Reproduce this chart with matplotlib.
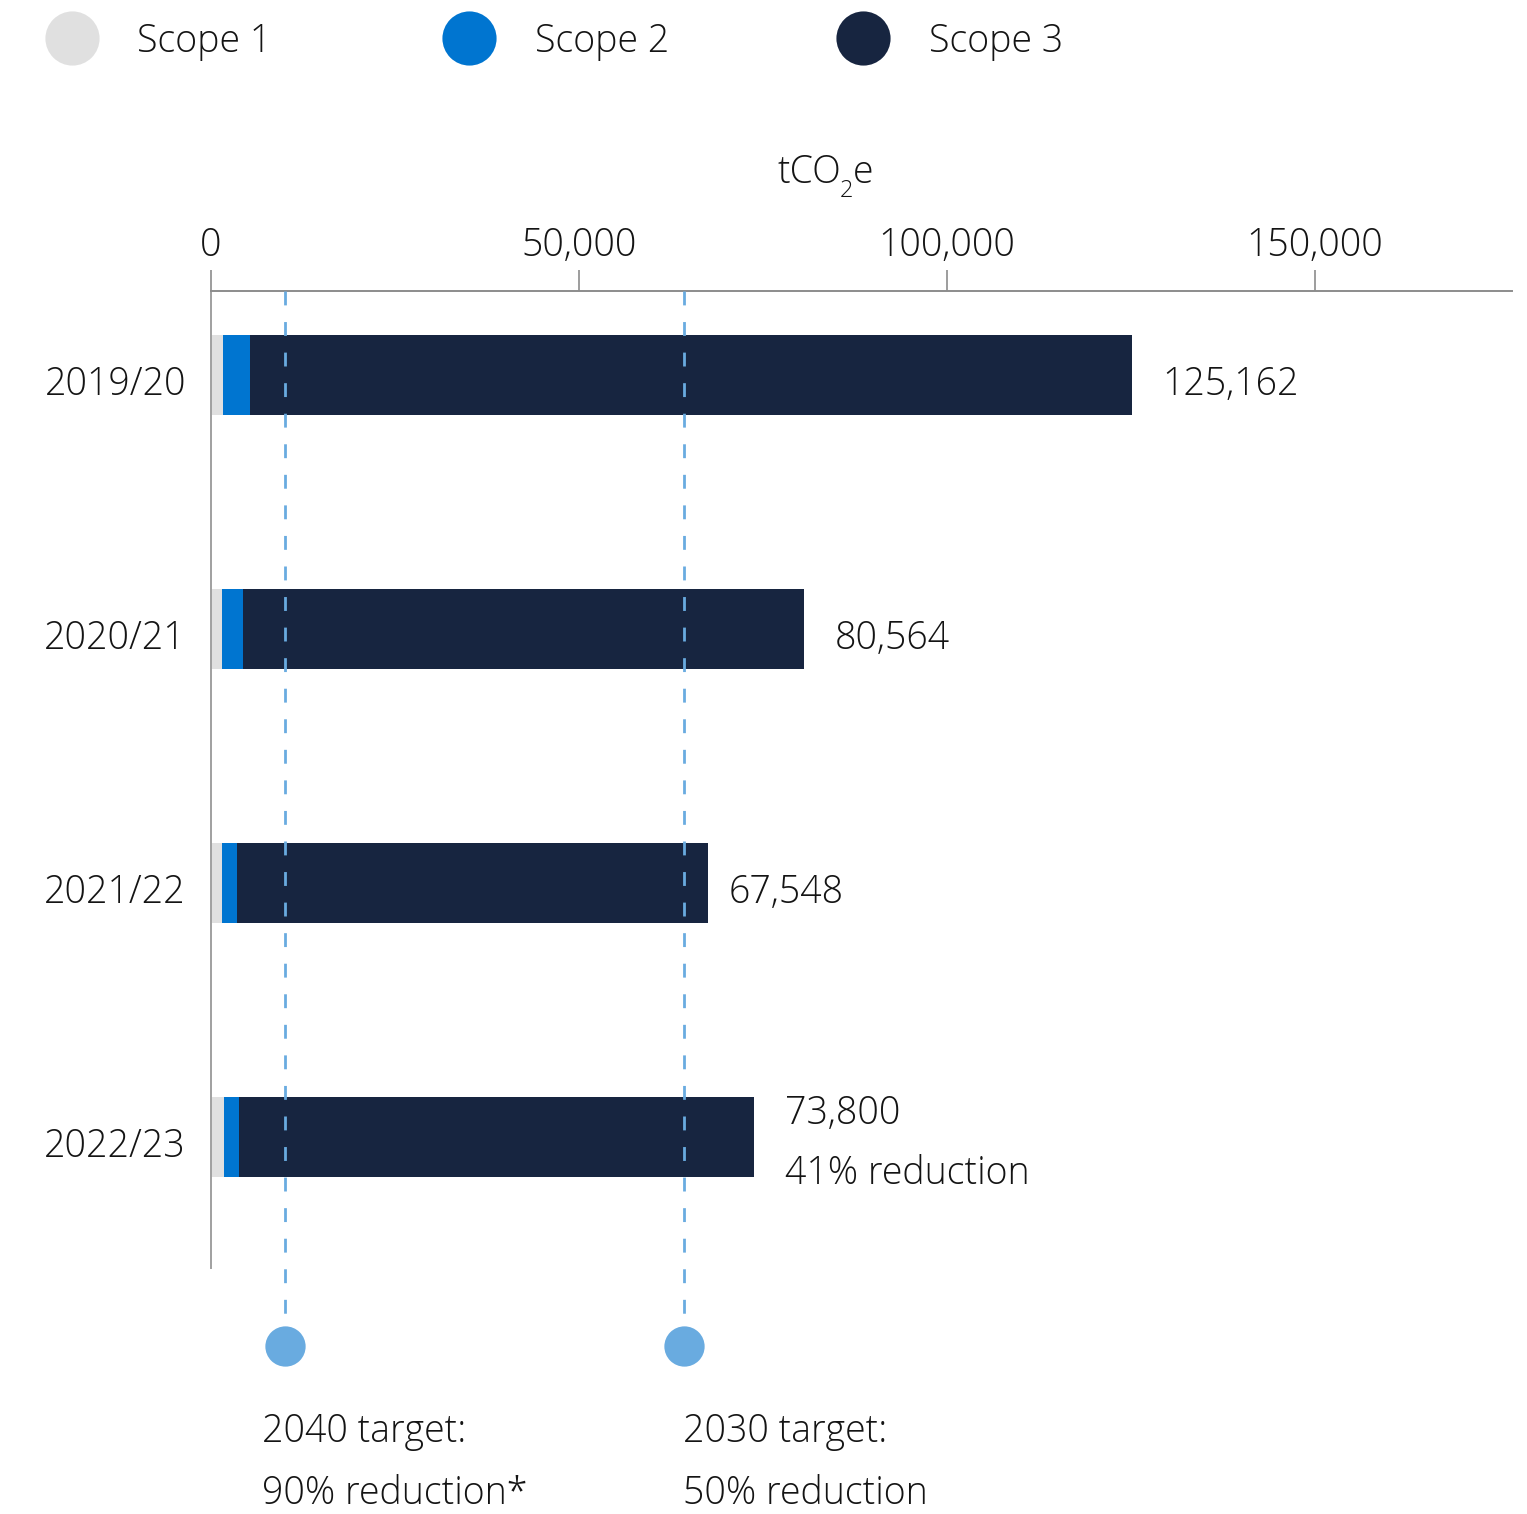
import numpy as np
import matplotlib.pyplot as plt
from matplotlib.lines import Line2D

plt.rcParams['font.family'] = ['Open Sans', 'DejaVu Sans']
plt.rcParams['font.weight'] = 'light'

# data (tCO2e)
years = ['2019/20', '2020/21', '2021/22', '2022/23']
scope1 = [1630, 1500, 1500, 1770]
scope2 = [3670, 2850, 2040, 2040]
totals = [125162, 80564, 67548, 73800]
total_labels = ['125,162', '80,564', '67,548', '73,800']
targets = [10000, 64300]
scope_names = ['Scope 1', 'Scope 2', 'Scope 3']
ticks = [0, 50000, 100000, 150000]

scope3 = [t - a - b for t, a, b in zip(totals, scope1, scope2)]

c1, c2, c3 = '#e0e0e0', '#0075d0', '#172540'
ctarget = '#69abe0'
txt = '#141414'
W, H = 1527, 1514
FS = 27

fig = plt.figure(figsize=(W / 100, H / 100), dpi=100)
ax = fig.add_axes([211 / W, 0, 1301 / W, (H - 291) / H])

px = 254.0  # pixels per bar slot
y = np.arange(len(years))
ytop = -84 / px
ax.set_ylim((H - 291) / px + ytop, ytop)
ax.set_xlim(0, 1301 / 7.36 * 1000)

h = 80 / px
ax.barh(y, scope1, height=h, color=c1, zorder=2)
ax.barh(y, scope2, left=scope1, height=h, color=c2, zorder=2)
ax.barh(y, scope3, left=np.add(scope1, scope2), height=h, color=c3, zorder=2)

# target lines
ybot_line = (1325 - 291) / px + ytop
ycirc = (1346 - 291) / px + ytop
for t in targets:
    ax.plot([t, t], [ytop, ybot_line], color=ctarget, lw=2, ls=(0, (5, 6)),
            zorder=3, clip_on=False)
    ax.plot([t], [ycirc], 'o', ms=29, color=ctarget, mec='none', clip_on=False)

xpx = 1000 / 7.36  # data units per pixel
def ypos(p):
    return (p - 291) / px + ytop

ax.text(targets[0] - 23 * xpx, ypos(1442), '2040 target:', fontsize=FS, color=txt, va='baseline')
ax.text(targets[0] - 23 * xpx, ypos(1504), '90% reduction*', fontsize=FS, color=txt, va='baseline')
ax.text(targets[1] - 1 * xpx, ypos(1442), '2030 target:', fontsize=FS, color=txt, va='baseline')
ax.text(targets[1] - 1 * xpx, ypos(1504), '50% reduction', fontsize=FS, color=txt, va='baseline')

# value labels
pads = [30, 31, 20, 31]
for i, (t, lab) in enumerate(zip(totals, total_labels)):
    if i == 3:
        ax.text(t + pads[i] * xpx, i - 13 / px, lab, fontsize=FS, color=txt, va='baseline')
        ax.text(t + pads[i] * xpx, i + 47 / px, '41% reduction', fontsize=FS,
                color=txt, va='baseline')
    else:
        ax.text(t + pads[i] * xpx, i + 20 / px, lab, fontsize=FS, color=txt, va='baseline')

# year labels
for i, yr in enumerate(years):
    ax.text(-25 * xpx, i + 20 / px, yr, fontsize=FS, color=txt, va='baseline', ha='right')

# axes styling
ax.xaxis.tick_top()
ax.set_xticks(ticks)
ax.set_xticklabels([f'{v:,}' for v in ticks], fontsize=FS, color=txt)
ax.tick_params(axis='x', length=15, width=1.2, color='#8c8c8c', pad=3.5)
ax.set_yticks([])
for s in ['right', 'bottom']:
    ax.spines[s].set_visible(False)
ax.spines['top'].set_color('#8c8c8c')
ax.spines['top'].set_linewidth(1.4)
ax.spines['left'].set_color('#a0a0a0')
ax.spines['left'].set_linewidth(1.4)
ax.spines['left'].set_bounds((1268 - 291) / px + ytop, ytop)
ax.set_facecolor('none')

# unit label tCO2e, subscript drawn by hand
fig.text(841 / W, 1 - 183 / H, 'tCO', fontsize=FS, color=txt, ha='right', va='baseline')
fig.text(840 / W, 1 - 197 / H, '2', fontsize=17, color=txt, ha='left', va='baseline')
fig.text(853 / W, 1 - 183 / H, 'e', fontsize=FS, color=txt, ha='left', va='baseline')

# legend
for xc, xt, col, name in zip([72, 469, 863], [137, 535, 929], [c1, c2, c3], scope_names):
    fig.add_artist(Line2D([xc / W], [1 - 38 / H], marker='o', ms=39, color=col,
                          mec='none', transform=fig.transFigure))
    fig.text(xt / W, 1 - 52 / H, name, fontsize=FS, color=txt, va='baseline')

fig.savefig('out.png', dpi=100, facecolor='white')
